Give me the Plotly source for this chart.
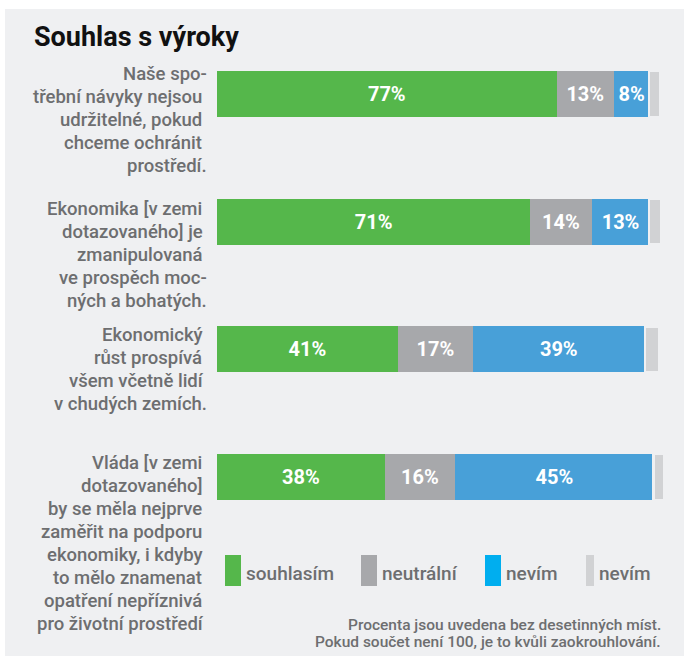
import plotly.graph_objects as go

# ---- data ----
statements = [
    ["Naše spo-", "třební návyky nejsou\u00a0", "udržitelné, pokud\u00a0", "chceme ochránit\u00a0", "prostředí."],
    ["Ekonomika [v zemi\u00a0", "dotazovaného] je\u00a0", "zmanipulovaná\u00a0", "ve prospěch moc-", "ných a bohatých."],
    ["Ekonomický\u00a0", "růst prospívá\u00a0", "všem včetně lidí\u00a0", "v chudých zemích."],
    ["Vláda [v zemi\u00a0", "dotazovaného]\u00a0", "by se měla nejprve\u00a0", "zaměřit na podporu\u00a0",
     "ekonomiky, i kdyby\u00a0", "to mělo znamenat\u00a0", "opatření nepříznivá\u00a0", "pro životní prostředí\u00a0"],
]
cats = ["q1", "q2", "q3", "q4"]
agree = [77, 71, 41, 38]
neutral = [13, 14, 17, 16]
dontknow = [8, 13, 39, 45]
other = [2.5, 2.8, 3.2, 2.4]

legend_names = ["souhlasím", "neutrální", "nevím", "nevím"]
title_text = "Souhlas s výroky"
note_lines = ["Procenta jsou uvedena bez desetinných míst.",
              "Pokud součet není 100, je to kvůli zaokrouhlování."]

# ---- style ----
BG = "#eff0f2"
GREEN = "#55b74b"
GRAY = "#a7a8ab"
BLUE = "#48a0d8"
LEGEND_BLUE = "#00aeef"
LIGHT = "#d1d2d4"
TXT = "#6d6e70"
FONT = "Roboto"

W, H = 684, 657
L, R, T, B = 217, 20, 30, 116
PW, PH = W - L - R, H - T - B


def px_x(x):
    return (x - L) / PW


def px_y(y):
    return 1 - (y - T) / PH


fig = go.Figure()
series = [(agree, GREEN, True), (neutral, GRAY, True), (dontknow, BLUE, True), (other, LIGHT, False)]
for vals, col, lab in series:
    fig.add_trace(go.Bar(
        y=cats, x=vals, orientation="h", width=0.36,
        marker=dict(color=col, line=dict(width=2.5 if not lab else 0, color=BG)),
        texttemplate="%{x}%" if lab else None,
        textposition="inside" if lab else "none",
        insidetextanchor="middle",
        textfont=dict(color="white", size=20, family=FONT, weight=700),
        showlegend=False, hoverinfo="skip",
    ))

shapes = [dict(type="rect", xref="paper", yref="paper", x0=px_x(5), x1=px_x(684),
               y0=px_y(656), y1=px_y(9), fillcolor=BG, line=dict(width=0), layer="below")]

annotations = []
# title
annotations.append(dict(text=title_text, xref="paper", yref="paper", x=px_x(32), y=px_y(37),
                        xanchor="left", yanchor="middle", showarrow=False,
                        font=dict(size=27, family=FONT, color="#111111", weight=700)))
# row labels, one annotation per line
label_offsets = [3, 10, 9, 9]  # first line centre below bar top, px
line_h = 23
for c, lines, off in zip(cats, statements, label_offsets):
    for k, ln in enumerate(lines):
        annotations.append(dict(text=ln, xref="paper", yref="y", x=px_x(209), y=c,
                                xanchor="right", yanchor="middle", align="right", showarrow=False,
                                yshift=23 - off - k * line_h,
                                font=dict(size=18.5, family=FONT, color=TXT, weight=500)))

# manual legend
legend_cols = [GREEN, GRAY, LEGEND_BLUE, LIGHT]
sw_x = [225, 361, 485, 586]
sw_w = [16, 16, 16, 8]
for name, col, x0, w in zip(legend_names, legend_cols, sw_x, sw_w):
    shapes.append(dict(type="rect", xref="paper", yref="paper", x0=px_x(x0), x1=px_x(x0 + w),
                       y0=px_y(586), y1=px_y(555), fillcolor=col, line=dict(width=0)))
    annotations.append(dict(text=name, xref="paper", yref="paper", x=px_x(x0 + w + 3), y=px_y(573),
                            xanchor="left", yanchor="middle", showarrow=False,
                            font=dict(size=19, family=FONT, color=TXT, weight=500)))

# footnote
for i, line in enumerate(note_lines):
    annotations.append(dict(text=line, xref="paper", yref="paper", x=px_x(663), y=px_y(624.5 + 17.5 * i),
                            xanchor="right", yanchor="middle", showarrow=False,
                            font=dict(size=15.5, family=FONT, color=TXT, weight=500)))

fig.update_layout(
    width=W, height=H, barmode="stack",
    margin=dict(l=L, r=R, t=T, b=B),
    paper_bgcolor="white", plot_bgcolor="rgba(0,0,0,0)",
    xaxis=dict(range=[0, PW / 4.41], visible=False, fixedrange=True),
    yaxis=dict(categoryorder="array", categoryarray=cats, range=[3.5, -0.5],
               visible=False, fixedrange=True),
    shapes=shapes, annotations=annotations,
    font=dict(family=FONT),
    uniformtext=dict(minsize=10, mode="show"),
)

fig.write_html("out.html", config={"displayModeBar": False})
